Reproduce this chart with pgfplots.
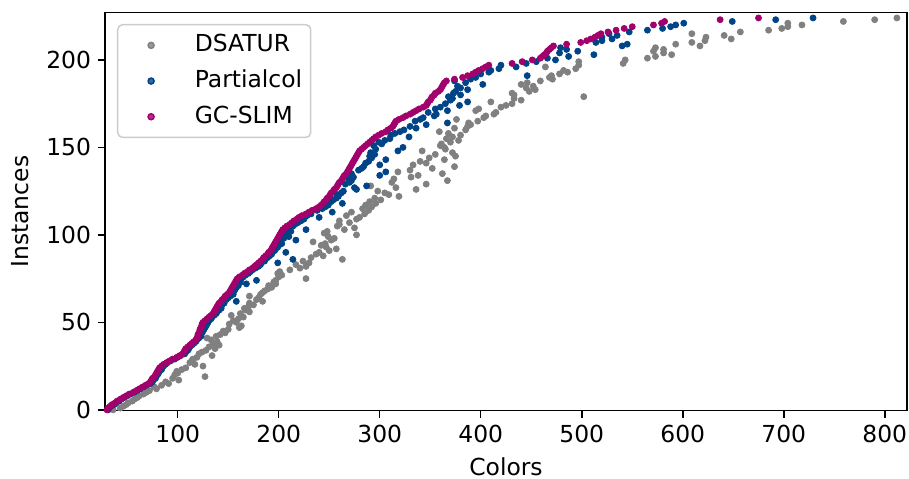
\documentclass[border=0pt]{standalone}
\usepackage{fontspec}
\setmainfont{DejaVu Sans}
\setsansfont{DejaVu Sans}
\usepackage{pgfplots}
\usepackage{pgfplotstable}
\pgfplotsset{compat=1.18}

\definecolor{dsgray}{HTML}{808080}
\definecolor{pcblue}{HTML}{004488}
\definecolor{gcmag}{HTML}{A2006B}

% y = instance (sorted by GC-SLIM), then colours found by each method
\pgfplotstableread{
y gc pc ds
0 30 31 36
1 31 32 43
2 33 34 46
3 35 37 49
4 38 39 51
5 40 42 55
6 43 44 57
7 46 47 60
8 49 50 62
9 52 53 66
10 56 57 69
11 59 60 72
12 62 63 79
13 65 66 77
14 68 69 84
15 71 73 91
16 73 75 88
17 74 76 101
18 75 78 95
19 77 78 127
20 78 80 97
21 79 81 100
22 80 82 99
23 81 84 104
24 82 83 108
25 84 86 125
26 86 88 117
27 89 90 112
28 92 93 114
29 95 97 115
30 99 100 119
31 102 103 134
32 105 107 121
33 106 108 124
34 107 110 128
35 108 111 137
36 110 112 131
37 112 114 141
38 114 116 135
39 116 118 139
40 118 119 133
41 119 121 129
42 120 123 138
43 120 122 142
44 121 124 147
45 122 125 145
46 122 126 150
47 123 127 161
48 124 128 163
49 124 129 151
50 125 130 158
51 127 131 155
52 129 133 160
53 131 134 165
54 133 136 153
55 135 138 162
56 136 139 171
57 137 141 167
58 138 143 166
59 139 142 170
60 140 144 175
61 141 146 171
62 143 158 184
63 144 148 178
64 146 150 180
65 147 152 171
66 149 155 182
67 151 154 184
68 152 156 186
69 153 157 189
70 154 158 193
71 155 160 190
72 156 168 197
73 157 162 195
74 158 178 197
75 159 163 227
76 161 165 200
77 164 167 203
78 166 170 199
79 169 172 201
80 171 174 211
81 174 177 221
82 176 180 227
83 178 182 217
84 180 199 230
85 182 186 224
86 184 214 263
87 185 189 232
88 187 191 244
89 189 193 237
90 190 207 240
91 192 196 250
92 193 197 257
93 194 199 247
94 195 200 242
95 196 203 246
96 197 201 234
97 198 217 252
98 199 205 255
99 200 210 249
100 201 206 277
101 202 208 245
102 203 212 248
103 204 227 265
104 206 211 275
105 208 214 258
106 211 216 260
107 213 219 270
108 215 222 260
109 218 225 277
110 220 240 280
111 223 228 267
112 227 232 285
113 230 253 272
114 233 238 289
115 237 243 283
116 240 246 292
117 242 249 286
118 244 263 296
119 245 252 290
120 247 254 301
121 248 257 295
122 250 259 319
123 251 258 309
124 252 262 305
125 254 264 298
126 255 277 336
127 257 275 316
128 258 287 291
129 259 266 346
130 260 270 312
131 262 272 367
132 263 269 314
133 264 274 331
134 265 300 338
135 267 272 362
136 268 306 318
137 269 279 330
138 270 282 352
139 271 284 374
140 272 300 333
141 273 286 346
142 274 289 340
143 275 306 364
144 276 292 349
145 277 290 375
146 278 295 355
147 279 291 372
148 280 318 342
149 282 296 365
150 284 323 364
151 286 294 360
152 288 302 361
153 290 299 370
154 292 305 378
155 294 310 366
156 296 329 372
157 299 311 380
158 302 315 368
159 306 320 359
160 308 324 385
161 311 336 374
162 313 330 387
163 314 346 390
164 315 367 388
165 316 335 397
166 319 340 376
167 323 343 403
168 326 354 405
169 330 356 413
170 333 348 415
171 336 367 395
172 339 355 398
173 343 360 420
174 346 379 425
175 347 365 431
176 348 387 410
177 350 370 440
178 351 372 433
179 352 368 502
180 354 380 433
181 355 373 431
182 358 375 448
183 360 387 454
184 361 380 445
185 362 377 452
186 363 402 440
187 364 385 446
188 366 374 459
189 374 390 471
190 382 395 468
191 387 446 470
192 392 400 478
193 395 408 486
194 398 410 482
195 402 418 494
196 405 435 464
197 408 420 497
198 431 445 541
199 441 455 497
200 451 474 543
201 459 466 565
202 461 487 573
203 463 512 589
204 465 478 581
205 466 496 571
206 468 485 581
207 470 479 573
208 472 540 617
209 485 545 593
210 499 514 609
211 505 520 622
212 509 530 648
213 513 520 623
214 516 535 641
215 519 527 609
216 526 547 657
217 534 565 685
218 542 580 698
219 550 588 704
220 571 593 718
221 579 601 704
222 582 649 759
223 637 692 790
224 675 729 812
}\results

\begin{document}
\begin{tikzpicture}
\begin{axis}[
    name=ax,
    scale only axis,
    width=401bp, height=199bp,
    xmin=28, xmax=822,
    ymin=-0.5, ymax=227,
    xtick={100,200,...,800},
    ytick={0,50,...,200},
    xtick pos=bottom, ytick pos=left,
    tick align=outside,
    major tick length=3.5bp,
    axis line style={line width=0.75bp},
    tick style={line width=0.75bp, black},
    /pgf/number format/assume math mode=true,
    tick label style={font=\fontsize{11.75}{14}\selectfont},
    label style={font=\fontsize{11.75}{14}\selectfont},
    xlabel={Colors},
    ylabel={Instances},
    xlabel style={at={(axis description cs:0.5,-0.1407)}, anchor=center},
    ylabel style={at={(axis description cs:-0.106,0.5)}, anchor=center, rotate=0},
    legend cell align=left,
    legend image code/.code={\path (0,-2bp) (24bp,2bp); \fill[#1] (12bp,0) circle (1.5bp);},
    legend style={
        at={(axis description cs:0,1)}, anchor=north west,
        xshift=6bp, yshift=-5.6bp,
        draw=black!20, rounded corners=2.5bp, line width=0.75bp,
        fill=white, fill opacity=0.8, text opacity=1,
        inner xsep=4.3bp, inner ysep=4.6bp,
        row sep=6.35bp,
        font=\fontsize{11.75}{14}\selectfont,
        nodes={inner sep=0pt, text height=9bp, text depth=2.5bp},
        /tikz/every odd column/.style={column sep=9.5bp},
    },
]
\addplot[only marks, mark=*, mark size=1.5bp, color=dsgray, mark options={draw=none, fill=dsgray}]
    table[x=ds, y=y]{\results};
\addplot[only marks, mark=*, mark size=1.5bp, color=pcblue, mark options={draw=none, fill=pcblue}]
    table[x=pc, y=y]{\results};
\addplot[only marks, mark=*, mark size=1.5bp, color=gcmag, mark options={draw=none, fill=gcmag}]
    table[x=gc, y=y]{\results};
\legend{DSATUR, Partialcol, GC-SLIM}
\end{axis}
\pgfresetboundingbox
\path ([shift={(-52.5bp,-34bp)}]ax.south west) rectangle ([shift={(1bp,6.35bp)}]ax.north east);
\end{tikzpicture}
\end{document}
